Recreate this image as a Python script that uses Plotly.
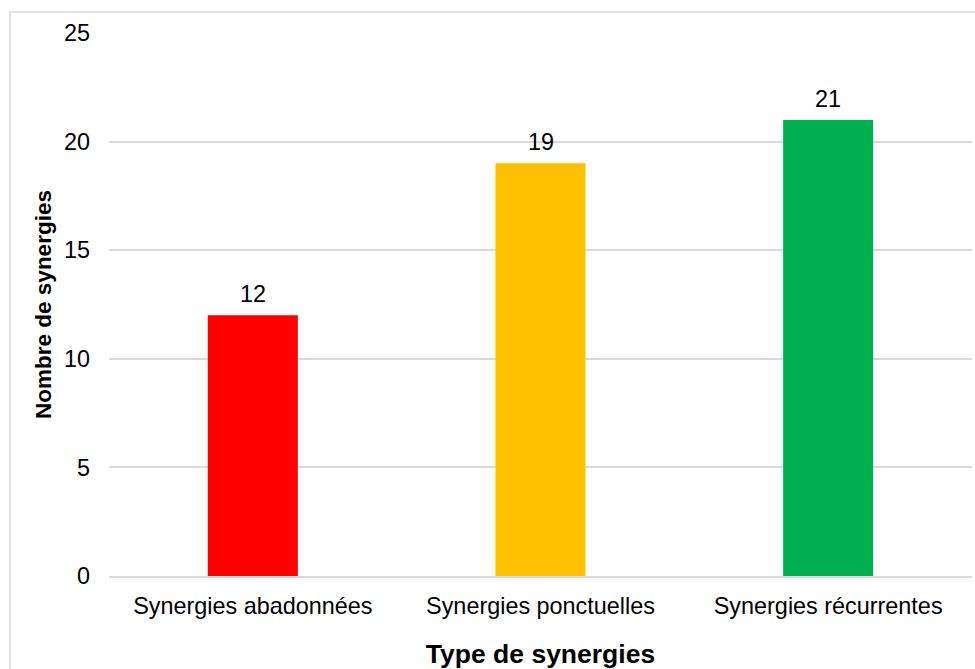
import plotly.graph_objects as go

categories = ["Synergies abadonnées", "Synergies ponctuelles", "Synergies récurrentes"]
counts = [12, 19, 21]
bar_colors = ["#FF0000", "#FFC000", "#00B050"]
y_ticks = [0, 5, 10, 15, 20, 25]

FONT = "Liberation Sans, Arial, sans-serif"
SIZE = 23.4

fig = go.Figure()
fig.add_trace(go.Bar(
    x=categories,
    y=counts,
    marker=dict(color=bar_colors, line=dict(width=0)),
    width=0.313,
    hoverinfo="x+y",
))

# value labels above each bar
for cat, val in zip(categories, counts):
    fig.add_annotation(
        x=cat, y=val, text=str(val), showarrow=False,
        yanchor="bottom", yshift=6,
        font=dict(family=FONT, size=SIZE, color="#000000"),
    )

fig.update_layout(
    width=975, height=669,
    margin=dict(l=109, r=3, t=33, b=93),
    paper_bgcolor="white", plot_bgcolor="white",
    font=dict(family=FONT, size=SIZE, color="#000000"),
    showlegend=False,
    shapes=[dict(
        type="rect", xref="paper", yref="paper",
        x0=-99 / 863, x1=1.05, y0=-0.2, y1=1 + 21 / 543,
        line=dict(color="#D9D9D9", width=1.5), fillcolor="rgba(0,0,0,0)",
        layer="below",
    )],
)

fig.update_xaxes(
    showgrid=False, showline=True, linecolor="#D9D9D9", linewidth=1.5,
    ticks="", ticklabelstandoff=8,
    tickfont=dict(family=FONT, size=SIZE),
    title=dict(text="<b>Type de synergies</b>", standoff=27,
               font=dict(family=FONT, size=26.5)),
)
fig.update_yaxes(
    range=[0, 25], tickvals=y_ticks, showgrid=True, gridcolor="#D9D9D9",
    gridwidth=1.5, zeroline=False, showline=False, ticks="",
    ticklabelstandoff=18, tickfont=dict(family=FONT, size=SIZE),
    title=dict(text="<b>Nombre de synergies</b>", standoff=6,
               font=dict(family=FONT, size=22.5)),
)

fig.write_html("out.html")
